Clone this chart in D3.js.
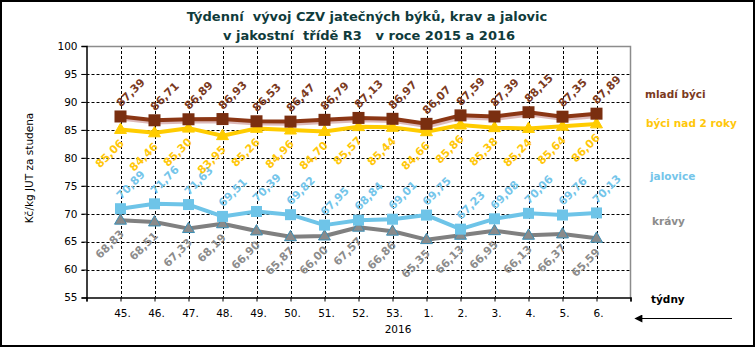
<!DOCTYPE html>
<html>
<head>
<meta charset="utf-8">
<script src="https://cdn.jsdelivr.net/npm/d3@7/dist/d3.min.js"></script>
<style>
  html, body { margin: 0; padding: 0; background: #fff; }
  svg { display: block; font-family: "DejaVu Sans", Verdana, sans-serif; }
</style>
</head>
<body>
<svg id="chart" width="756" height="348"></svg>
<script>
// Weekly prices, weeks 45/2015 – 6/2016
const weeks = ["45.", "46.", "47.", "48.", "49.", "50.", "51.", "52.", "53.", "1.", "2.", "3.", "4.", "5.", "6."];
const mladiByci = [87.39, 86.71, 86.89, 86.93, 86.53, 86.47, 86.79, 87.13, 86.97, 86.07, 87.59, 87.39, 88.15, 87.35, 87.89];
const byciNad2 = [85.06, 84.46, 85.30, 83.95, 85.26, 84.96, 84.70, 85.57, 85.44, 84.66, 85.86, 85.38, 85.24, 85.64, 86.06];
const jalovice = [70.89, 71.76, 71.63, 69.51, 70.39, 69.82, 67.95, 68.84, 69.01, 69.75, 67.23, 69.08, 70.06, 69.76, 70.13];
const kravy = [68.83, 68.51, 67.33, 68.19, 66.90, 65.87, 66.00, 67.57, 66.86, 65.35, 66.13, 66.95, 66.13, 66.37, 65.59];
const yTicks = [55, 60, 65, 70, 75, 80, 85, 90, 95, 100];

const series = [
  { name: "krávy", values: kravy, line: "#808080", fill: "#8a8a8a", stroke: "#3d8fb5", label: "#8c8c8c", marker: "triangle", pos: "below", legendY: 225, legendX: 652 },
  { name: "jalovice", values: jalovice, line: "#6ec4e8", fill: "#6ec4e8", stroke: "#6ec4e8", label: "#74c5ea", marker: "square", pos: "above", legendY: 180, legendX: 650 },
  { name: "býci nad 2 roky", values: byciNad2, line: "#ffcc00", fill: "#ffcc00", stroke: "#ffcc00", label: "#ffc70a", marker: "triangle", pos: "below", legendY: 127, legendX: 646 },
  { name: "mladí býci", values: mladiByci, line: "#8b3614", fill: "#7a2f10", stroke: "#7a2f10", label: "#7b3a1e", marker: "square", pos: "above", legendY: 98, legendX: 645, shadow: true }
];

const svg = d3.select("#chart");
const plot = { left: 86.5, right: 630.5, top: 46, bottom: 297.5 };

const x = d3.scaleLinear().domain([-1, 15]).range([plot.left, plot.right]);
const y = d3.scaleLinear().domain([55, 100]).range([plot.bottom, plot.top]);

// outer frame
svg.append("rect").attr("x", 1).attr("y", 1).attr("width", 753).attr("height", 345)
  .attr("fill", "none").attr("stroke", "#000").attr("stroke-width", 2);

// title
const title = svg.append("text").attr("text-anchor", "middle")
  .attr("font-weight", "bold").attr("font-size", 13).attr("fill", "#0f3b3b");
title.append("tspan").attr("x", 367).attr("y", 21).attr("xml:space", "preserve").text("Týdenní  vývoj CZV jatečných býků, krav a jalovic");
title.append("tspan").attr("x", 369).attr("y", 40).attr("xml:space", "preserve").text("v jakostní  třídě R3   v roce 2015 a 2016");

// grid lines
const grid = svg.append("g");
grid.selectAll("line.h").data(yTicks.filter(d => d > 55 && d < 100)).join("line")
  .attr("x1", plot.left - 5).attr("x2", plot.right)
  .attr("y1", d => Math.round(y(d)) + 0.5).attr("y2", d => Math.round(y(d)) + 0.5)
  .attr("stroke", "#000").attr("stroke-width", 1).attr("stroke-dasharray", "3,2");
grid.selectAll("line.v").data(d3.range(weeks.length)).join("line")
  .attr("x1", d => Math.round(x(d)) + 0.5).attr("x2", d => Math.round(x(d)) + 0.5)
  .attr("y1", plot.top).attr("y2", plot.bottom)
  .attr("stroke", "#000").attr("stroke-width", 1).attr("stroke-dasharray", "3,2");

// plot border (top and right)
svg.append("path")
  .attr("d", `M${plot.left},${plot.top + 0.5}H${plot.right}V${plot.bottom}`)
  .attr("fill", "none").attr("stroke", "#8c8c8c").attr("stroke-width", 1.5);

// axes
const yAxis = d3.axisLeft(y).tickValues(yTicks).tickSize(5).tickPadding(4).tickFormat(d3.format("d"));
const gy = svg.append("g").attr("transform", `translate(${plot.left},0)`).call(yAxis);
const xAxis = d3.axisBottom(x).tickValues(d3.range(-1, 16)).tickSize(4).tickPadding(8)
  .tickFormat(i => weeks[i] || "");
const gx = svg.append("g").attr("transform", `translate(0,${plot.bottom})`).call(xAxis);
[gy, gx].forEach(g => {
  g.select(".domain").attr("stroke", "#000").attr("stroke-width", 1.5);
  g.selectAll(".tick line").attr("stroke", "#000");
  g.selectAll(".tick text").attr("font-size", 10.5).attr("fill", "#000")
    .attr("font-family", "'DejaVu Sans', Verdana, sans-serif");
});
gx.selectAll(".tick text").attr("dx", 1.5);

// axis titles
svg.append("text").attr("transform", "translate(33,168) rotate(-90)")
  .attr("text-anchor", "middle").attr("font-size", 10.5).attr("fill", "#000")
  .text("Kč/kg JUT za studena");
svg.append("text").attr("x", 398).attr("y", 333).attr("text-anchor", "middle")
  .attr("font-size", 10.5).attr("fill", "#000").text("2016");
svg.append("text").attr("x", 651).attr("y", 303).attr("font-size", 10.5)
  .attr("font-weight", "bold").attr("fill", "#000").text("týdny");

// arrow pointing left
svg.append("defs").append("marker").attr("id", "arrowhead")
  .attr("viewBox", "0 0 10 10").attr("refX", 8).attr("refY", 5)
  .attr("markerUnits", "userSpaceOnUse")
  .attr("markerWidth", 11).attr("markerHeight", 8).attr("orient", "auto")
  .append("path").attr("d", "M0,0L10,5L0,10Z").attr("fill", "#000");
svg.append("line").attr("x1", 732).attr("y1", 318.5).attr("x2", 636).attr("y2", 318.5)
  .attr("stroke", "#000").attr("stroke-width", 1.2).attr("marker-end", "url(#arrowhead)");

// series lines and markers
const lineGen = d3.line().x((d, i) => x(i)).y(d => y(d));
const tri = d3.symbol().type(d3.symbolTriangle).size(62);

series.forEach(s => {
  const g = svg.append("g");
  if (s.shadow) {
    g.append("path").attr("d", lineGen(s.values)).attr("transform", "translate(1.5,2.5)")
      .attr("fill", "none").attr("stroke", "#c48a8a").attr("stroke-opacity", 0.6).attr("stroke-width", 3.5);
  }
  g.append("path").attr("d", lineGen(s.values))
    .attr("fill", "none").attr("stroke", s.line).attr("stroke-width", 4).attr("stroke-linejoin", "round");
  if (s.marker === "square") {
    const sz = s.name === "mladí býci" ? 12 : 11;
    g.selectAll("rect").data(s.values).join("rect")
      .attr("x", (d, i) => x(i) - sz / 2).attr("y", d => y(d) - sz / 2)
      .attr("width", sz).attr("height", sz).attr("fill", s.fill);
  } else {
    g.selectAll("path.m").data(s.values).join("path").attr("class", "m")
      .attr("d", tri).attr("transform", (d, i) => `translate(${x(i)},${y(d) + 0.5})`)
      .attr("fill", s.fill).attr("stroke", s.stroke).attr("stroke-width", 1);
  }
});

// rotated value labels and legend entries
series.forEach(s => {
  const dx = s.pos === "above" ? 10 : -11;
  const dy = s.pos === "above" ? -24 : 24;
  svg.append("g").selectAll("text").data(s.values).join("text")
    .attr("transform", (d, i) => `translate(${x(i) + dx},${y(d) + dy}) rotate(-45)`)
    .attr("text-anchor", "middle").attr("dy", "0.36em")
    .attr("font-size", 11).attr("font-weight", "bold").attr("fill", s.label)
    .text(d => d3.format(".2f")(d).replace(".", ","));
  svg.append("text").attr("x", s.legendX).attr("y", s.legendY)
    .attr("font-size", 10.5).attr("font-weight", "bold").attr("fill", s.label)
    .text(s.name);
});
</script>
</body>
</html>
